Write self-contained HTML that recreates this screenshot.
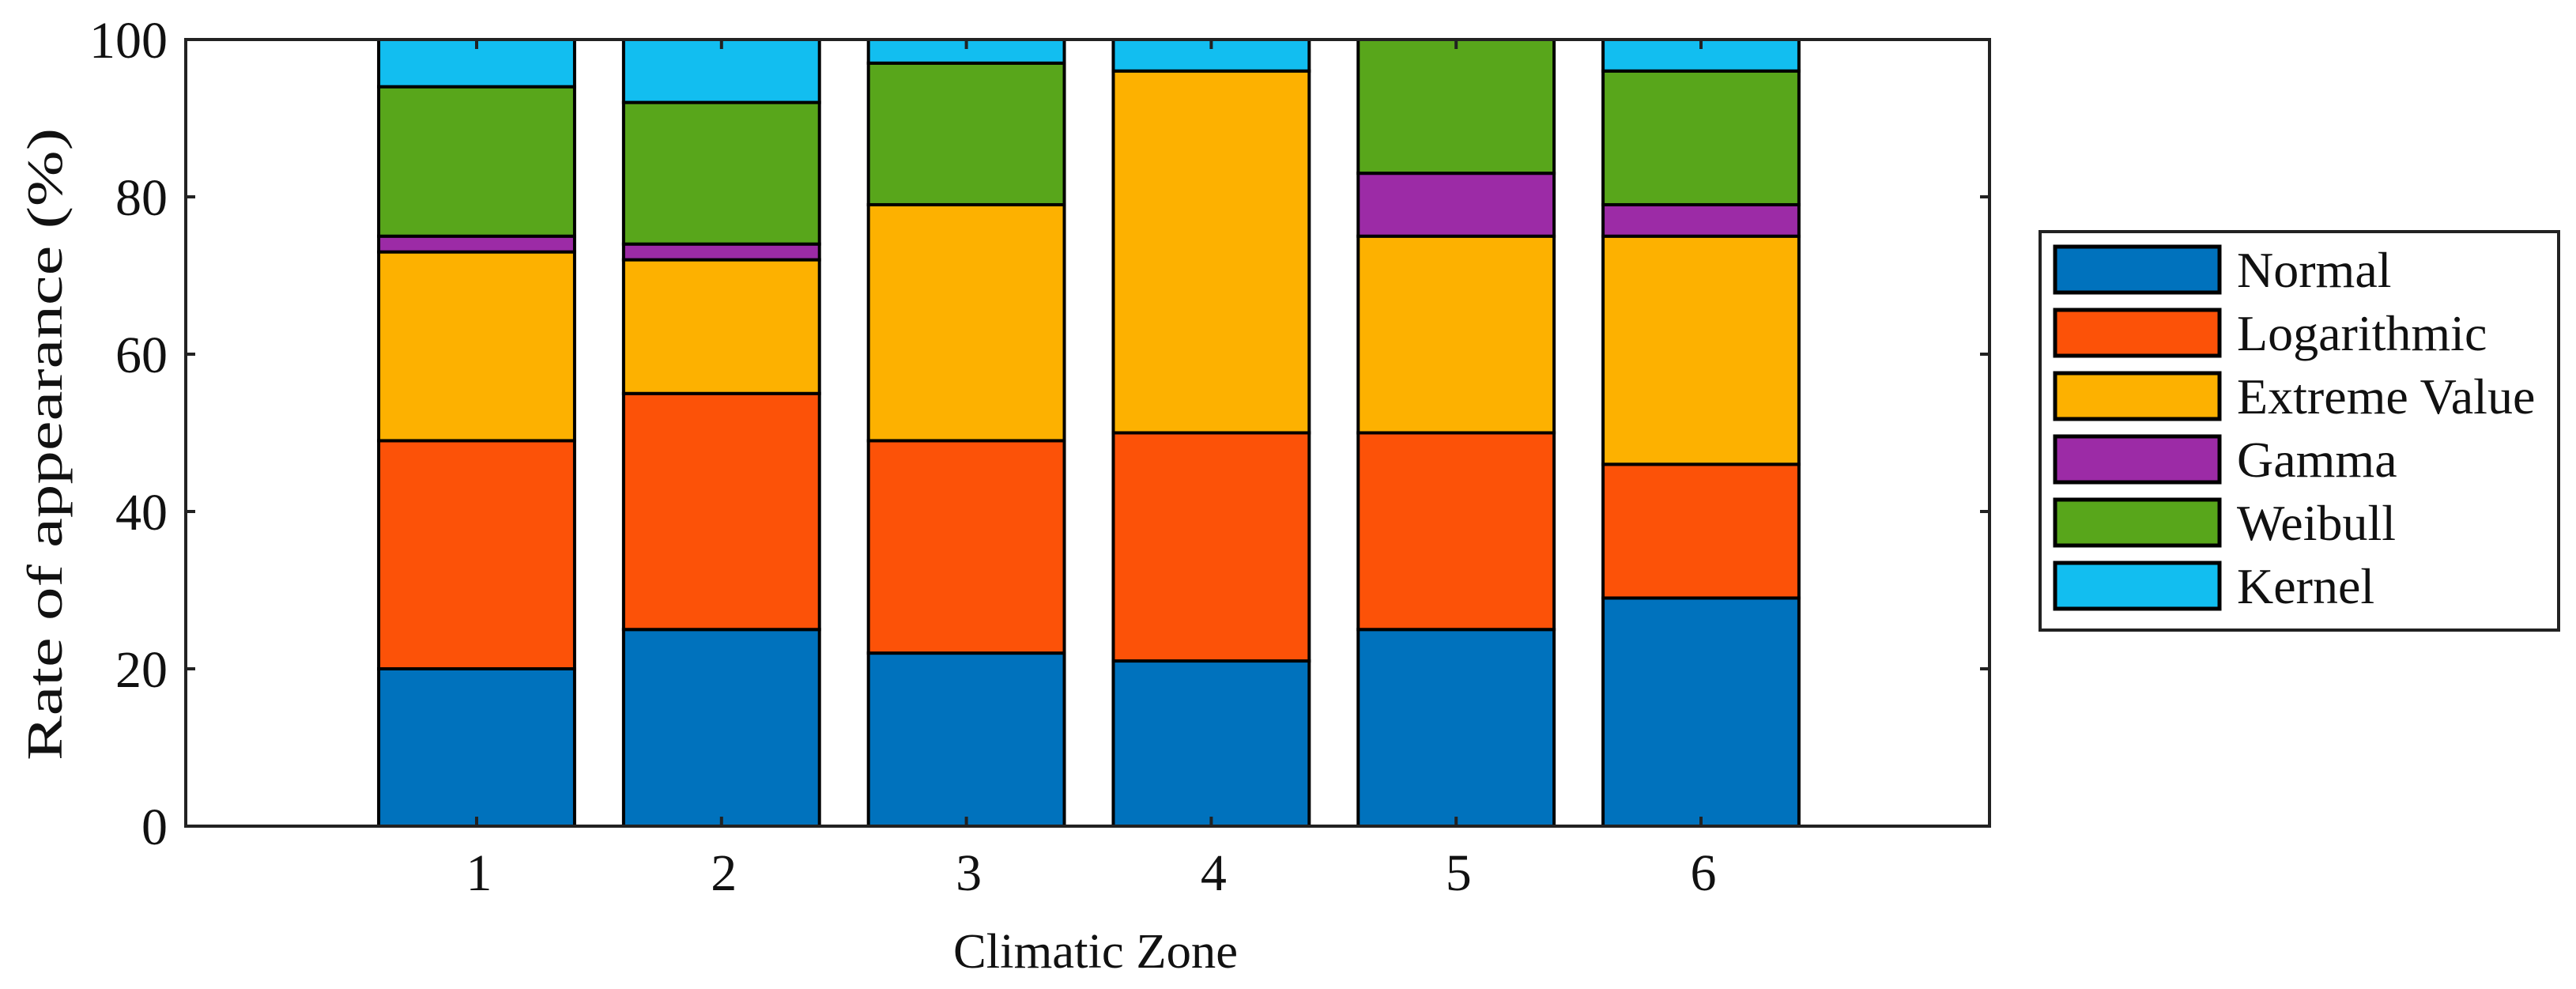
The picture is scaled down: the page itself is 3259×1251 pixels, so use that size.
<!DOCTYPE html>
<html><head><meta charset="utf-8"><style>
html,body{margin:0;padding:0;background:#fff;}
svg{display:block;}
text{font-family:"Liberation Serif",serif;fill:#111;}
</style></head><body>
<svg id="chart" width="3259" height="1251" viewBox="0 0 3259 1251">
<g id="bars"></g>
<g id="axes"></g>
<g id="legend"></g>
</svg>
<script>
const categories = ["1","2","3","4","5","6"];
const seriesNames = ["Normal","Logarithmic","Extreme Value","Gamma","Weibull","Kernel"];
const normalVals = [20,25,22,21,25,29];
const logVals = [29,30,27,29,25,17];
const extremeVals = [24,17,30,46,25,29];
const gammaVals = [2,2,0,0,8,4];
const weibullVals = [19,18,18,0,17,17];
const kernelVals = [6,8,3,4,0,4];
const yTicks = [0,20,40,60,80,100];
const colors = ["#0072BD","#FC5208","#FDB100","#9C2BA6","#58A61B","#12BEF0"];
const series = [normalVals,logVals,extremeVals,gammaVals,weibullVals,kernelVals];

const NS="http://www.w3.org/2000/svg";
const L=235,R=2517,T=50,B=1045;
const y = v => B - (v/100)*(B-T);
const step = 309.8, c0 = 603;
const x = i => c0 + i*step;
const bw = step*0.8;
function mk(tag, attrs, parent){const e=document.createElementNS(NS,tag);for(const k in attrs)e.setAttribute(k,attrs[k]);parent.appendChild(e);return e;}
const gb=document.getElementById('bars'), ga=document.getElementById('axes'), gl=document.getElementById('legend');

categories.forEach((c,i)=>{
  let base=0;
  series.forEach((s,j)=>{
    const v=s[i];
    if(v>0){
      const r=mk('rect',{x:x(i)-bw/2,y:y(base+v),width:bw,height:y(base)-y(base+v),fill:colors[j],stroke:'#000','stroke-width':4},gb);
      
      
    }
    base+=v;
  });
});

const frame=mk('rect',{x:L,y:T,width:R-L,height:B-T,fill:'none',stroke:'#222','stroke-width':4},ga);



yTicks.forEach(t=>{
  mk('line',{x1:L,x2:L+12,y1:y(t),y2:y(t),stroke:'#222','stroke-width':4},ga);
  mk('line',{x1:R,x2:R-12,y1:y(t),y2:y(t),stroke:'#222','stroke-width':4},ga);
  const tx=mk('text',{x:212,y:y(t)+23,'text-anchor':'end','font-size':66},ga);
  tx.textContent=t;
  
  
});
categories.forEach((c,i)=>{
  mk('line',{x1:x(i),x2:x(i),y1:B,y2:B-12,stroke:'#222','stroke-width':4},ga);
  mk('line',{x1:x(i),x2:x(i),y1:T,y2:T+12,stroke:'#222','stroke-width':4},ga);
  const tx=mk('text',{x:x(i)+3,y:1126,'text-anchor':'middle','font-size':66},ga);
  tx.textContent=c;
  
  
});
const xt=mk('text',{x:1386,y:1224,'text-anchor':'middle','font-size':62,textLength:360,lengthAdjust:'spacingAndGlyphs'},ga);
xt.textContent='Climatic Zone';


const yt=mk('text',{x:0,y:0,'text-anchor':'middle','font-size':64,transform:'translate(78,562) rotate(-90)',textLength:800,lengthAdjust:'spacingAndGlyphs'},ga);
yt.textContent='Rate of appearance (%)';



const lb=mk('rect',{x:2581,y:293,width:656,height:504,fill:'#fff',stroke:'#222','stroke-width':4},gl);


seriesNames.forEach((n,j)=>{
  const yy=312+j*80;
  const sw=mk('rect',{x:2600,y:yy,width:208,height:58,fill:colors[j],stroke:'#000','stroke-width':5},gl);
  
  
  const tx=mk('text',{x:2830,y:yy+51,'font-size':64},gl);
  tx.textContent=n;
  
  
});
</script>
</body></html>
